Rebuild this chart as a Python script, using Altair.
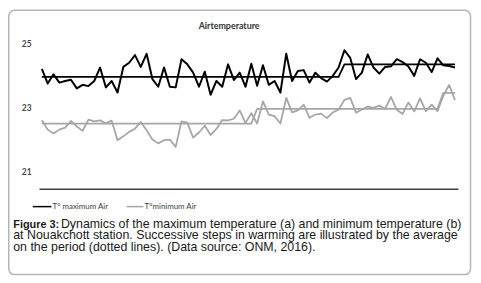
import altair as alt
import pandas as pd

# ---- data (72 periods) ----
period_index = list(range(72))

t_max = [24.21, 23.75, 24.04, 23.78, 23.83, 23.87, 23.60, 23.71, 23.67, 23.83,
         24.25, 23.63, 23.83, 23.47, 24.27, 24.40, 24.64, 24.27, 24.68, 23.89,
         23.65, 24.25, 23.65, 23.63, 24.51, 24.35, 24.09, 23.65, 24.12, 23.40,
         23.83, 23.65, 24.35, 23.86, 24.09, 23.65, 24.37, 23.68, 24.32, 23.71,
         23.83, 23.47, 24.68, 23.83, 24.14, 24.17, 23.78, 24.09, 23.92, 23.81,
         23.99, 24.25, 24.79, 24.55, 23.89, 24.09, 24.66, 24.25, 24.06, 24.27,
         24.29, 24.51, 24.42, 24.28, 23.99, 24.51, 24.40, 24.11, 24.54, 24.32,
         24.30, 24.25]

t_min = [22.60, 22.31, 22.19, 22.31, 22.37, 22.58, 22.41, 22.27, 22.62, 22.57,
         22.60, 22.51, 22.59, 21.98, 22.10, 22.24, 22.34, 22.55, 22.29, 22.00,
         21.88, 21.98, 22.00, 21.77, 22.57, 22.53, 22.06, 22.22, 22.43, 22.14,
         22.33, 22.61, 22.60, 22.65, 22.91, 22.52, 22.82, 22.50, 23.19, 22.78,
         22.73, 22.50, 23.30, 22.85, 22.91, 23.09, 22.68, 22.78, 22.81, 22.67,
         22.85, 22.93, 23.24, 23.30, 22.84, 22.94, 23.03, 22.99, 23.06, 22.96,
         23.33, 22.93, 22.80, 23.16, 22.88, 23.29, 22.89, 23.09, 22.89, 23.37,
         23.71, 23.23]

# period averages: (first index, last index, mean level)
max_periods = [(0, 51, 23.96), (52, 71, 24.35)]
min_periods = [(0, 36, 22.50), (37, 68, 22.96), (69, 71, 23.46)]

y_ticks = [21, 23, 25]

chart_title = "Airtemperature"
legend_max = "T° maximum Air"
legend_min = "T°minimum Air"
caption_bold = "Figure 3:"
caption_lines = [
    "Dynamics of the maximum temperature (a) and minimum temperature (b)",
    "at Nouakchott station. Successive steps in warming are illustrated by the average",
    "on the period (dotted lines). (Data source: ONM, 2016).",
]


def expand(periods, n):
    out = [None] * n
    for a, b, v in periods:
        for i in range(a, b + 1):
            out[i] = v
    return out


df = pd.DataFrame({
    "idx": period_index,
    "t_max": t_max,
    "t_min": t_min,
    "max_avg": expand(max_periods, len(period_index)),
    "min_avg": expand(min_periods, len(period_index)),
})

W, H = 423.4, 163.0
xscale = alt.Scale(domain=[-0.5, 71.5], nice=False, zero=False)
yscale = alt.Scale(domain=[20.46, 25.5], nice=False, zero=False)
xaxis = alt.Axis(labels=False, ticks=False, grid=False, title=None,
                 domainColor="#404040", domainWidth=1.5)
yaxis = alt.Axis(values=y_ticks, grid=False, ticks=False, domain=False, title=None,
                 labelFont="Lato", labelFontSize=8.5, labelFontWeight="bold",
                 labelColor="#4a4a4a", labelPadding=8)

base = alt.Chart(df).encode(x=alt.X("idx:Q", scale=xscale, axis=xaxis))


def series(field, color, width):
    return base.mark_line(color=color, strokeWidth=width, strokeJoin="round").encode(
        y=alt.Y(f"{field}:Q", scale=yscale, axis=yaxis)
    )


dummy = pd.DataFrame({"d": [0]})


def label(text, x, y, size, font, weight="normal", color="#000", align="left",
          baseline="alphabetic"):
    return alt.Chart(dummy).mark_text(
        text=text, font=font, fontSize=size, fontWeight=weight, color=color,
        align=align, baseline=baseline
    ).encode(x=alt.value(x), y=alt.value(y))


def rule(x1, x2, y, color, width):
    return alt.Chart(dummy).mark_rule(color=color, strokeWidth=width).encode(
        x=alt.value(x1), x2=alt.value(x2), y=alt.value(y)
    )


border = alt.Chart(dummy).mark_rect(
    fillOpacity=0, stroke="#b5b5b5", strokeWidth=1.5, cornerRadius=6
).encode(x=alt.value(-30.55), x2=alt.value(436.2), y=alt.value(-17.55), y2=alt.value(249.7))

layers = [
    border,
    series("min_avg", "#a6a6a6", 1.8),
    series("t_min", "#a6a6a6", 1.8),
    series("max_avg", "#000000", 1.8),
    series("t_max", "#000000", 2.0),
    label(chart_title, 192.2, -2, 9, "Lato", weight="bold", color="#333",
          align="center", baseline="middle"),
    rule(-6.3, 12.7, 181, "#000000", 1.5),
    label(legend_max, 13.7, 181, 8, "Lato", color="#404040", baseline="middle"),
    rule(88.7, 105.7, 181, "#a6a6a6", 1.5),
    label(legend_min, 106.7, 181, 8, "Lato", color="#404040", baseline="middle"),
    label(caption_bold, -26.0, 202.4, 11, "Liberation Sans",
          weight="bold", color="#1a1a1a"),
    label(caption_lines[0], 22.2, 202.4, 12.5, "Liberation Sans", color="#1a1a1a"),
    label(caption_lines[1], -26.0, 214.0, 12.5, "Liberation Sans", color="#1a1a1a"),
    label(caption_lines[2], -26.0, 225.4, 12.5, "Liberation Sans", color="#1a1a1a"),
]

chart = alt.layer(*layers).properties(
    width=W,
    height=H,
    autosize=alt.AutoSizeParams(type="none"),
    padding={"left": 31.3, "top": 18.3, "right": 15.3, "bottom": 90.7},
    background="white",
).configure_view(strokeWidth=0)

chart.save("out.html", embed_options={"renderer": "svg", "actions": False})
